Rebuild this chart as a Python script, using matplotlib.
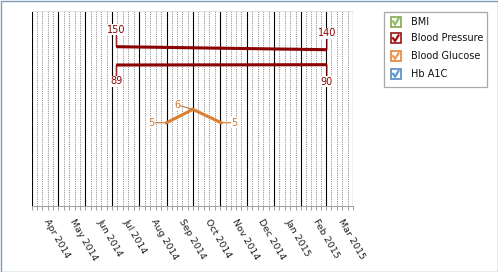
import numpy as np
import matplotlib
matplotlib.use("Agg")
import matplotlib.pyplot as plt
import matplotlib.dates as mdates
import matplotlib.transforms as mtransforms
from matplotlib.patches import Rectangle
from matplotlib.lines import Line2D

# ---------------- data ----------------
month_starts = np.array(['2014-04-01', '2014-05-01', '2014-06-01', '2014-07-01', '2014-08-01',
                         '2014-09-01', '2014-10-01', '2014-11-01', '2014-12-01', '2015-01-01',
                         '2015-02-01', '2015-03-01', '2015-04-01'], dtype='datetime64[D]')
tick_labels = ['Apr 2014', 'May 2014', 'Jun 2014', 'Jul 2014', 'Aug 2014', 'Sep 2014',
               'Oct 2014', 'Nov 2014', 'Dec 2014', 'Jan 2015', 'Feb 2015', 'Mar 2015', '']

bp_dates = np.array(['2014-07-06', '2015-03-02'], dtype='datetime64[D]')
systolic = [150, 140]
diastolic = [89, 90]

glucose_dates = np.array(['2014-09-01', '2014-10-01', '2014-11-02'], dtype='datetime64[D]')
glucose = [5, 6, 5]

legend_names = ['BMI', 'Blood Pressure', 'Blood Glucose', 'Hb A1C']
legend_edge = ['#76a03a', '#8b0000', '#e07b2b', '#4a7ebb']
legend_check = ['#8dbb5a', '#a01010', '#ef9a50', '#5a9ad8']

# ---------------- figure ----------------
W, H = 498, 272
fig = plt.figure(figsize=(W / 100, H / 100), dpi=100)
fig.patch.set_facecolor('white')

def fx(x):
    return x / W

def fy(y):
    return 1 - y / H

left, right, top, bottom = 31.7, 353.3, 11.0, 205.7
ax = fig.add_axes([fx(left), fy(bottom), (right - left) / W, (bottom - top) / H])
ax.set_facecolor('none')

xnum = mdates.date2num(month_starts.astype('datetime64[s]').astype(object))
ax.set_xlim(xnum[0], xnum[-1])
ax.set_xticks(xnum)
ax.set_xticklabels(tick_labels)
minor = []
for a, b in zip(xnum[:-1], xnum[1:]):
    minor.extend(list(np.linspace(a, b, 6)[1:-1]))
ax.set_xticks(minor, minor=True)

for sp in ['left', 'right']:
    ax.spines[sp].set_visible(False)
ax.spines['top'].set_color('#e4e4e4')
ax.spines['top'].set_linewidth(0.72)
ax.spines['bottom'].set_color('#a0a0a0')
ax.spines['bottom'].set_linewidth(0.72)
ax.set_yticks([])

ax.grid(which='major', axis='x', color='black', linewidth=0.8, linestyle='-')
ax.grid(which='minor', axis='x', color='#8a8a8a', linewidth=0.72, linestyle=(0, (1, 1.2)))
ax.set_axisbelow(True)
ax.tick_params(axis='x', which='both', direction='out', length=3, width=0.72,
               color='#a0a0a0', pad=5.8, labelsize=6.8, labelcolor='#202020')
offset = mtransforms.ScaledTranslation(10 / 100, 0, fig.dpi_scale_trans)
for lab in ax.get_xticklabels():
    lab.set_rotation(-60)
    lab.set_ha('left')
    lab.set_va('top')
    lab.set_transform(lab.get_transform() + offset)

# Blood pressure (own scale)
bp_color = '#8b0000'
ax.set_ylim(-380, 269)
ax.plot(bp_dates, systolic, color=bp_color, lw=2.2, solid_capstyle='butt', zorder=5)
ax.plot(bp_dates, diastolic, color=bp_color, lw=2.2, solid_capstyle='butt', zorder=5)

def lbl(axis, x, y, txt, dx, dy, color):
    axis.annotate(txt, xy=(x, y), xytext=(dx * 0.72, dy * 0.72), textcoords='offset points',
                  ha='center', va='center', fontsize=7, color=color, zorder=6,
                  bbox=dict(boxstyle='square,pad=0.05', fc='white', ec='none'),
                  arrowprops=dict(arrowstyle='-', color=color, lw=0.8, shrinkA=0, shrinkB=0))

lbl(ax, bp_dates[0], systolic[0], str(systolic[0]), 0, 17, bp_color)
lbl(ax, bp_dates[1], systolic[1], str(systolic[1]), 0, 16.5, bp_color)
lbl(ax, bp_dates[0], diastolic[0], str(diastolic[0]), 0, -16.5, bp_color)
lbl(ax, bp_dates[1], diastolic[1], str(diastolic[1]), 0, -17, bp_color)

# Blood glucose (own scale)
ax2 = ax.twinx()
ax2.set_facecolor('none')
ax2.set_ylim(-1.19, 13.34)
for sp in ax2.spines.values():
    sp.set_visible(False)
ax2.set_yticks([])
gl_color = '#dd7e30'
gl_text = '#c8742e'
ax2.plot(glucose_dates, glucose, color=gl_color, lw=2.2, solid_joinstyle='miter', zorder=5)
lbl(ax2, glucose_dates[0], glucose[0], str(glucose[0]), -15, 0, gl_text)
lbl(ax2, glucose_dates[1], glucose[1], str(glucose[1]), -16, 4.5, gl_text)
lbl(ax2, glucose_dates[2], glucose[2], str(glucose[2]), 13.5, 0, gl_text)

# ---------------- legend ----------------
lx0, ly0, lx1, ly1 = 384, 11.7, 486.7, 86.7
fig.add_artist(Rectangle((fx(lx0), fy(ly1)), (lx1 - lx0) / W, (ly1 - ly0) / H,
                         transform=fig.transFigure, fill=False, ec='#a8a8a8', lw=0.9))
rows = [21.7, 38.4, 56.2, 74.0]
for yc, name, ec, cc in zip(rows, legend_names, legend_edge, legend_check):
    bx0, bx1 = 390.5, 400.5
    fig.add_artist(Rectangle((fx(bx0), fy(yc + 5)), 10 / W, 10 / H, transform=fig.transFigure,
                             fill=True, fc='white', ec=ec, lw=1.1))
    cx = [bx0 + 2.5, bx0 + 4.6, bx0 + 8.0]
    cy = [yc - 0.2, yc + 2.6, yc - 3.0]
    fig.add_artist(Line2D([fx(v) for v in cx], [fy(v) for v in cy], transform=fig.transFigure,
                          color=cc, lw=1.6, solid_joinstyle='miter'))
    fig.text(fx(410.5), fy(yc), name, ha='left', va='center', fontsize=7, color='#101010')

# outer frame
fig.add_artist(Rectangle((0.5 / W, 0.5 / H), (W - 1) / W, (H - 1) / H, transform=fig.transFigure,
                         fill=False, ec='#7f9db9', lw=1.0))

fig.savefig('out.png', dpi=100, facecolor='white')
